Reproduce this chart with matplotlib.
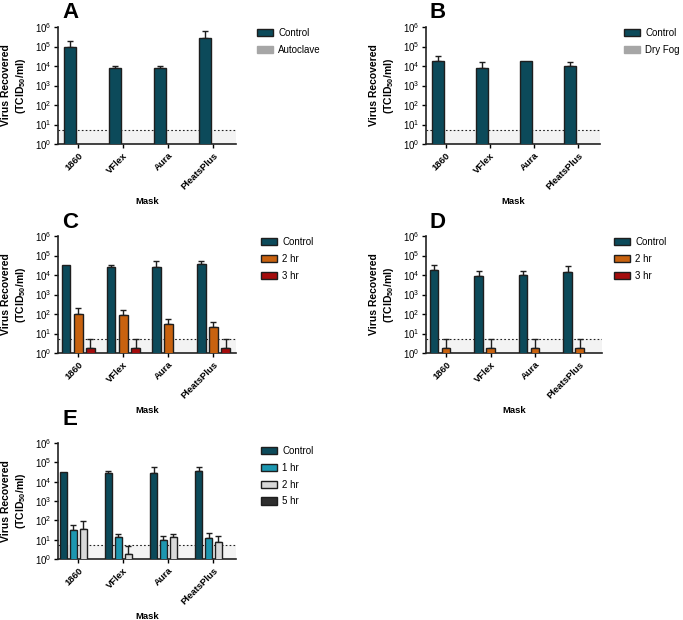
import numpy as np
import matplotlib
matplotlib.use("Agg")
import matplotlib.pyplot as plt
from matplotlib.patches import Patch

plt.rcParams["font.family"] = ["Liberation Sans", "DejaVu Sans"]
plt.rcParams["mathtext.fontset"] = "custom"
plt.rcParams["mathtext.rm"] = "Liberation Sans:bold"
plt.rcParams["mathtext.bf"] = "Liberation Sans:bold"

masks = ["1860", "VFlex", "Aura", "PleatsPlus"]
lod = 5.5  # limit of detection (dotted line)

# panel A
a_labels = ["Control", "Autoclave"]
a_control = [1.0e5, 8.0e3, 8.0e3, 2.8e5]
a_control_err = [1.95e5, 1.05e4, 1.05e4, 6.3e5]
a_autoclave = [np.nan, np.nan, np.nan, np.nan]
a_autoclave_err = [np.nan, np.nan, np.nan, np.nan]

# panel B
b_labels = ["Control", "Dry Fog"]
b_control = [1.8e4, 8.3e3, 1.75e4, 9.8e3]
b_control_err = [3.2e4, 1.6e4, np.nan, 1.6e4]
b_dryfog = [np.nan, np.nan, np.nan, np.nan]
b_dryfog_err = [np.nan, np.nan, np.nan, np.nan]

# panel C
c_labels = ["Control", "2 hr", "3 hr"]
c_control = [3.2e4, 2.7e4, 2.7e4, 3.6e4]
c_control_err = [np.nan, 3.3e4, 5.3e4, 5.3e4]
c_2hr = [100, 85, 29, 22]
c_2hr_err = [213, 160, 54, 37]
c_3hr = [1.8, 1.8, np.nan, 1.8]
c_3hr_err = [5.0, 5.0, np.nan, 5.0]

# panel D
d_labels = ["Control", "2 hr", "3 hr"]
d_control = [1.8e4, 9.1e3, 1.0e4, 1.5e4]
d_control_err = [3.1e4, 1.7e4, 1.7e4, 3.0e4]
d_2hr = [1.8, 1.8, 1.8, 1.8]
d_2hr_err = [5.0, 5.0, 5.0, 5.0]
d_3hr = [np.nan, np.nan, np.nan, np.nan]
d_3hr_err = [np.nan, np.nan, np.nan, np.nan]

# panel E
e_labels = ["Control", "1 hr", "2 hr", "5 hr"]
e_control = [3.3e4, 2.9e4, 2.8e4, 3.7e4]
e_control_err = [np.nan, 3.6e4, 5.5e4, 5.7e4]
e_1hr = [30, 13, 9.6, 11.7]
e_1hr_err = [57, 20, 16, 21]
e_2hr = [37, 1.8, 13, 7.6]
e_2hr_err = [92, 4.9, 20, 16]
e_5hr = [np.nan, np.nan, np.nan, np.nan]
e_5hr_err = [np.nan, np.nan, np.nan, np.nan]

TEAL = "#0c4a5a"
GRAY = "#a6a6a6"
ORANGE = "#c8620f"
RED = "#a50d0d"
CYAN = "#1c97b0"
LIGHT = "#d9d9d9"
DARK = "#2e2e2e"
EDGE = "#1e1e1e"

W, H = 683, 620
fig = plt.figure(figsize=(W / 100, H / 100), dpi=100)


def px_axes(left, top, right, bottom):
    return fig.add_axes([left / W, 1 - bottom / H, (right - left) / W, (bottom - top) / H])


def panel(box, letter, letter_xy, legend_xy, series, colors, edged, slot, width):
    ax = px_axes(*box)
    ax.set_yscale("log")
    ax.set_ylim(1, 1e6)
    ax.set_xlim(-0.45, 3.5)
    ax.axhspan(1, lod, color="#f3f3f3", zorder=0, lw=0)
    ax.axhline(lod, color="#222222", ls=(0, (1.5, 2)), lw=0.8, zorder=1)

    n = len(series)
    x = np.arange(len(masks))
    handles = []
    for i, (label, vals, errs) in enumerate(series):
        off = (i - (n - 1) / 2) * slot
        vals = np.asarray(vals, float)
        errs = np.asarray(errs, float)
        ec = EDGE if edged[i] else colors[i]
        ok = np.isfinite(vals)
        ax.bar(x[ok] + off, vals[ok], width=width, color=colors[i],
               edgecolor=ec, linewidth=1.0, zorder=3)
        ek = ok & np.isfinite(errs)
        if ek.any():
            ax.errorbar(x[ek] + off, vals[ek],
                        yerr=[np.zeros(ek.sum()), errs[ek] - vals[ek]],
                        fmt="none", ecolor=EDGE, elinewidth=1.0,
                        capsize=2.5, capthick=1.0, zorder=2)
        handles.append(Patch(facecolor=colors[i], edgecolor=ec,
                             linewidth=1.0, label=label))

    for s in ["top", "right"]:
        ax.spines[s].set_visible(False)
    for s in ["left", "bottom"]:
        ax.spines[s].set_linewidth(1.2)
        ax.spines[s].set_color("#222222")
    ax.set_yticks([10 ** k for k in range(7)])
    ax.minorticks_off()
    ax.tick_params(axis="y", length=3, width=1.0, labelsize=7, pad=1.5)
    ax.set_xticks(x)
    ax.set_xticklabels(masks, rotation=45, ha="right", rotation_mode="anchor",
                       fontsize=6.8, fontweight="bold")
    ax.tick_params(axis="x", length=3, width=1.0, pad=2)
    ax.set_xlabel("Mask", fontsize=6.8, fontweight="bold", labelpad=4)
    ax.set_ylabel("Virus Recovered\n(TCID$_{50}$/ml)", fontsize=7.5,
                  fontweight="bold", labelpad=5, linespacing=1.3)

    fig.text(letter_xy[0] / W, 1 - letter_xy[1] / H, letter, fontsize=16,
             fontweight="bold", va="top", ha="left")
    ax.legend(handles=handles, loc="upper left",
              bbox_to_anchor=(legend_xy[0] / W, 1 - legend_xy[1] / H),
              bbox_transform=fig.transFigure, frameon=False, fontsize=7,
              handlelength=1.6, handleheight=0.8, labelspacing=0.7,
              handletextpad=0.6, borderaxespad=0, borderpad=0)
    return ax


panel((58, 27, 236, 144), "A", (62, 2), (257, 28),
      [(a_labels[0], a_control, a_control_err),
       (a_labels[1], a_autoclave, a_autoclave_err)],
      [TEAL, GRAY], [True, False], 0.36, 0.27)

panel((426, 27, 600, 144), "B", (429, 2), (624, 28),
      [(b_labels[0], b_control, b_control_err),
       (b_labels[1], b_dryfog, b_dryfog_err)],
      [TEAL, GRAY], [True, False], 0.36, 0.27)

panel((58, 236, 236, 353), "C", (62, 212), (261, 237),
      [(c_labels[0], c_control, c_control_err),
       (c_labels[1], c_2hr, c_2hr_err),
       (c_labels[2], c_3hr, c_3hr_err)],
      [TEAL, ORANGE, RED], [True, True, True], 0.27, 0.19)

panel((426, 236, 602, 353), "D", (429, 212), (614, 237),
      [(d_labels[0], d_control, d_control_err),
       (d_labels[1], d_2hr, d_2hr_err),
       (d_labels[2], d_3hr, d_3hr_err)],
      [TEAL, ORANGE, RED], [True, True, True], 0.27, 0.19)

panel((58, 443, 236, 559), "E", (62, 409), (261, 446),
      [(e_labels[0], e_control, e_control_err),
       (e_labels[1], e_1hr, e_1hr_err),
       (e_labels[2], e_2hr, e_2hr_err),
       (e_labels[3], e_5hr, e_5hr_err)],
      [TEAL, CYAN, LIGHT, DARK], [True, True, True, True], 0.22, 0.16)

fig.savefig("out.png", dpi=100)
